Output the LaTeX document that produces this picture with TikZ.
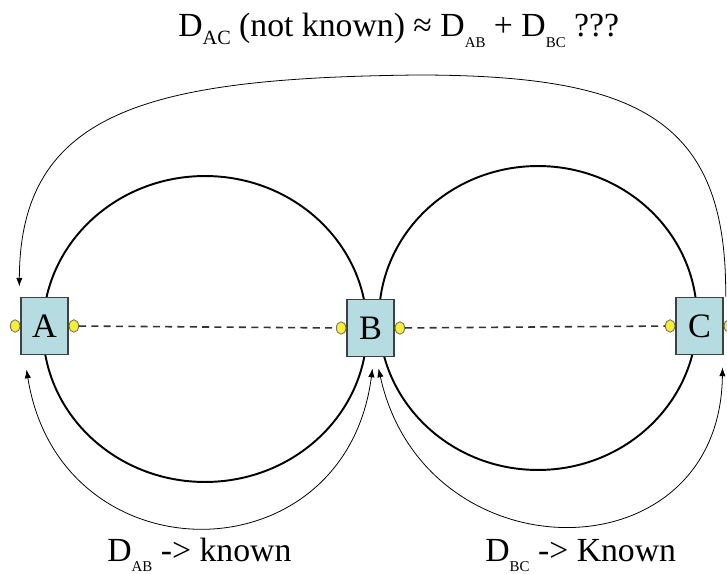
\documentclass[tikz,border=0pt]{standalone}
\usepackage{fontspec}
\setmainfont{Liberation Serif}
\usetikzlibrary{arrows.meta,positioning,shapes.geometric}
\definecolor{boxblue}{RGB}{180,220,225}
\definecolor{portyellow}{RGB}{248,240,40}
\newcommand{\dist}[2]{D\raisebox{-#2}{\fontsize{8.5}{9}\selectfont #1}}

\begin{document}
\begin{tikzpicture}[x=0.02cm,y=-0.02cm,
    station/.style={draw=black!75,line width=0.8pt,fill=boxblue,inner sep=0pt,
      minimum width=0.94cm,minimum height=1.15cm,font=\fontsize{19.5}{22}\selectfont},
    port/.style={ellipse,draw=black!55,line width=0.5pt,fill=portyellow,inner sep=0pt,
      minimum width=0.19cm,minimum height=0.25cm},
    link/.style={dashed,dash pattern=on 4pt off 3pt,line width=0.9pt,black!80},
    ring/.style={line width=1.1pt},
    hop/.style={line width=0.45pt,-{Latex[length=5pt,width=3.6pt]}},
    hops/.style={line width=0.45pt,{Latex[length=5pt,width=3.6pt]}-{Latex[length=5pt,width=3.6pt]}},
    caption/.style={inner sep=0pt,anchor=base west,font=\fontsize{19.2}{22}\selectfont}]
  \useasboundingbox (0,0) rectangle (727,574);
  \draw[ring] (205,329) ellipse [x radius=3.24cm,y radius=3.06cm];
  \draw[ring] (538,318) ellipse [x radius=3.18cm,y radius=3.04cm];
  \node[station] (A) at (44.5,326) {A};
  \node[station] (B) at (370.5,328) {B};
  \node[station] (C) at (699.5,326) {C};
  \node[port,left=0pt of A] (A-in) {};
  \node[port,right=0pt of A] (A-out) {};
  \node[port,left=0pt of B] (B-in) {};
  \node[port,right=0pt of B] (B-out) {};
  \node[port,left=0pt of C] (C-in) {};
  \node[port,right=0pt of C] (C-out) {};
  \draw[link] (A-out) -- (B-in);
  \draw[link] (B-out) -- (C-in);
  % distances
  \draw[hop] ([shift={(2,0)}]C.north east) .. controls (727,120) and (640,75) .. (417,75)
    .. controls (150,78) and (20,110) .. ([shift={(-1,-10)}]A.north west);
  \draw[hops] ([shift={(-18,14)}]A.south) .. controls (60,580) and (345,580) .. ([shift={(2,11)}]B.south);
  \draw[hops] ([shift={(8,11)}]B.south) .. controls (425,578) and (720,578) .. ([shift={(23,12)}]C.south);
  \node[caption] (dac) at (178,37) {D\raisebox{-4.5pt}{\fontsize{11.5}{12}\selectfont AC} (not known) ≈ \dist{AB}{5.7pt} + \dist{BC}{5.7pt} ???};
  \node[caption] (dab) at (107,561) {\dist{AB}{6pt} -> known};
  \node[caption] (dbc) at (485,561) {\dist{BC}{6pt} -> Known};
\end{tikzpicture}
\end{document}
